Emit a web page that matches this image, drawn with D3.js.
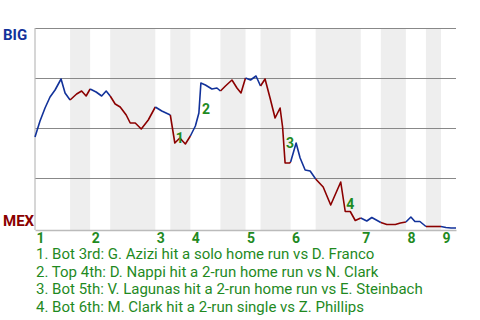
<!DOCTYPE html>
<html><head><meta charset="utf-8">
<script src="https://cdn.jsdelivr.net/npm/d3@7"></script>
<style>
html,body{margin:0;padding:0;background:#fff;}
text{font-family:Roboto,"Noto Sans",sans-serif;}
</style></head>
<body><svg id="c" width="480" height="320"></svg>
<script>
// ---- data ----
const teams = ["BIG", "MEX"];               // top = away (BIG), bottom = home (MEX)
// game progress (plate-appearance units) and BIG win probability (%)
const progress = [0,1,2,3,4,5.2,6,7,8.3,9.3,10.2,11,12.2,13.3,14.2,15,16,17,18.2,19,20,21.2,22.6,24,25.3,27,
  27.9,28.9,30,31,32,32.7,33.1,34,35.3,36.3,37,38,39.3,40.3,41.1,42,43,44.1,45,45.9,46.9,47.9,48.9,49.4,49.9,50.8,51,
  52.1,52.9,53.9,54.9,56,57.5,59,61,61.9,62.9,63.9,65,66.2,67.2,69,70.2,71.9,72.9,74,75,75.8,76.8,78,81,82,83,84];
const bigWinPct = [45.5,53.5,60,65.5,69,74.5,67.5,64,67,68.5,66,69.5,68,66,68.5,66,62,60.5,56.5,52.5,52.5,49.5,54,60.5,58.5,56.5,
  42.5,45,42,46,51,57.5,72.5,71.5,69.5,70,68.5,71,74,70,67.5,75,74,76,71,74.5,65,55,60,50.5,32.5,32.5,33,
  42.5,35,29,28.5,24.5,20.5,11.5,23,8.25,8.25,3.75,5,3.5,5.25,2.75,1.75,1.75,2.5,3,5.5,3.25,3.25,0.75,0.75,0.25,0,0];
// half-inning boundaries (progress units)
const halfInningEdges = [0,7,11,15,24,27,31,37,42,45,51,56,65,69,74,78,81,84];
const inningLabels = ["1","2","3","4","5","6","7","8","9"];
const gridPct = [25,50,75,100];
// key plays
const markerLabels = ["1","2","3","4"];
const markerProgress = [27.9,33.1,49.9,61.9];
const markerPct = [42.5,57,40,9.5];
const notes = [
  "1. Bot 3rd: G. Azizi hit a solo home run vs D. Franco",
  "2. Top 4th: D. Nappi hit a 2-run home run vs N. Clark",
  "3. Bot 5th: V. Lagunas hit a 2-run home run vs E. Steinbach",
  "4. Bot 6th: M. Clark hit a 2-run single vs Z. Phillips"
];

// ---- styles ----
const BLUE = "#12329a", RED = "#8b0000", GREEN = "#1f8a1f";

const svg = d3.select("#c");
const x = d3.scaleLinear().domain([0, 84]).range([35, 456]);
const y = d3.scaleLinear().domain([0, 100]).range([228, 28]);
const yBottom = 230;

// shaded bottom halves
const halves = d3.range(halfInningEdges.length - 1).map(i => ({a: halfInningEdges[i], b: halfInningEdges[i+1], top: i % 2 === 0}));
svg.append("g").selectAll("rect").data(halves.filter(h => !h.top)).join("rect")
  .attr("x", d => x(d.a)).attr("width", d => x(d.b) - x(d.a))
  .attr("y", y(100)).attr("height", yBottom - y(100))
  .attr("fill", "#eeeeee");

// gridlines
const gAxisY = svg.append("g").attr("transform", `translate(${x(0)},0)`)
  .call(d3.axisLeft(y).tickValues(gridPct).tickSize(-(x(84) - x(0))).tickFormat(""));
gAxisY.select(".domain").remove();
gAxisY.selectAll(".tick line").attr("stroke", "#888").attr("stroke-width", 1.2);

// left and bottom axis lines
svg.append("line").attr("x1", x(0)).attr("x2", x(0)).attr("y1", y(100)).attr("y2", yBottom)
  .attr("stroke", "#bbb").attr("stroke-width", 1.2);

const innStarts = halfInningEdges.filter((d, i) => i % 2 === 0 && i < halfInningEdges.length - 1);
const gAxisX = svg.append("g").attr("transform", `translate(0,${yBottom})`)
  .call(d3.axisBottom(x).tickValues(innStarts).tickSize(0).tickFormat((d, i) => inningLabels[i]));
gAxisX.select(".domain").attr("stroke", "#bbb").attr("stroke-width", 1.5);
gAxisX.selectAll("text").attr("text-anchor", "start").attr("dx", 1).attr("y", 3).attr("dy", "0.72em")
  .attr("fill", GREEN).attr("font-size", 14).attr("font-weight", "bold")
  .style("font-family", "Roboto, sans-serif");

// win probability line, coloured by half-inning
const pts = progress.map((p, i) => ({p, v: bigWinPct[i]}));
const line = d3.line().x(d => x(d.p)).y(d => y(d.v));
svg.append("g").selectAll("path").data(halves).join("path")
  .attr("d", h => line(pts.filter(d => d.p >= h.a && d.p <= h.b)))
  .attr("fill", "none").attr("stroke", h => h.top ? BLUE : RED)
  .attr("stroke-width", 1.6).attr("stroke-linejoin", "round");

// team labels
svg.append("text").attr("x", 3).attr("y", 40).text(teams[0])
  .attr("fill", BLUE).attr("font-weight", "bold").attr("font-size", 15);
svg.append("text").attr("x", 3).attr("y", 226).text(teams[1])
  .attr("fill", RED).attr("font-weight", "bold").attr("font-size", 15);

// markers
svg.append("g").selectAll("text").data(markerLabels).join("text")
  .attr("x", (d, i) => x(markerProgress[i]) + 1).attr("y", (d, i) => y(markerPct[i]))
  .text(d => d).attr("fill", GREEN).attr("font-weight", "bold").attr("font-size", 14);

// notes
svg.append("g").selectAll("text").data(notes).join("text")
  .attr("x", 36).attr("y", (d, i) => 259 + i * 17.7)
  .text(d => d).attr("fill", GREEN).attr("font-size", 15);
</script></body></html>
